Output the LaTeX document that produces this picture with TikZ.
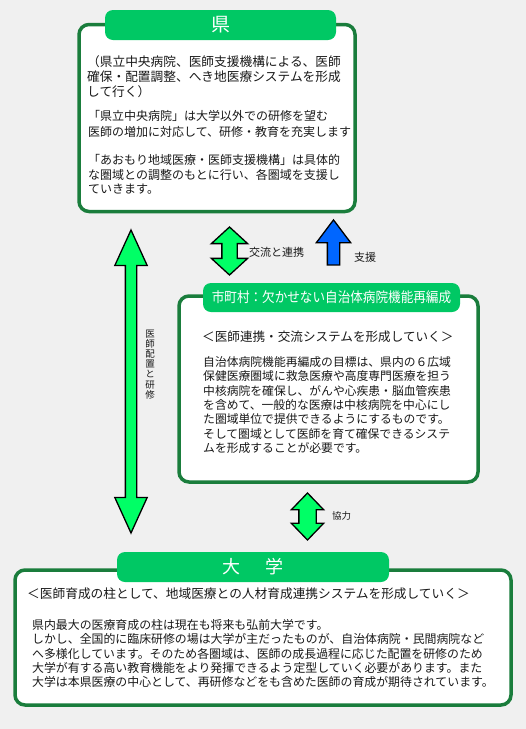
\documentclass[tikz,border=0pt]{standalone}
\usepackage{fontspec}
\setmainfont{Noto Sans CJK JP}
\newfontfamily\condfont[FakeStretch=0.9]{Noto Sans CJK JP}
\usetikzlibrary{shapes.arrows}

\definecolor{bggray}{HTML}{F0F0F0}
\definecolor{framegreen}{HTML}{1A7D3C}
\definecolor{tabgreen}{HTML}{00C864}
\definecolor{arrowgreen}{HTML}{00FF66}
\definecolor{arrowblue}{HTML}{0066FF}

\begin{document}
\begin{tikzpicture}[
  x=1pt, y=-1pt,
  panel/.style={draw=framegreen, line width=3.5pt, fill=white, rounded corners=10pt, inner sep=0pt},
  tab/.style={fill=tabgreen, rounded corners=8pt, text=white, inner sep=0pt},
  body/.style={anchor=base west, align=left, inner sep=0pt, text=black!90},
  tag/.style={inner sep=0pt, text=black!90, font=\fontsize{11}{13}\selectfont},
  dblarrow/.style={double arrow, draw=black, line width=1.3pt, fill=arrowgreen, inner xsep=0pt, rotate=90}
]
\fill[bggray] (0,0) rectangle (526,729);
\useasboundingbox (0,0) rectangle (526,729);

% prefecture (text nodes sit on the baseline of their last line)
\node[panel, minimum width=276, minimum height=187] (ken) at (217,118) {};
\node[tab, minimum width=231, minimum height=30, font=\fontsize{19}{19}\selectfont] (kentab) at (220.5,25) {県};
\node[body, font=\fontsize{12.7}{15}\selectfont] (kenA) at (87,96) {（県立中央病院、医師支援機構による、医師\\確保・配置調整、へき地医療システムを形成\\して行く）};
\node[body, font=\fontsize{12}{16}\selectfont] (kenB) at (88,136.5) {「県立中央病院」は大学以外での研修を望む\\医師の増加に対応して、研修・教育を充実します};
\node[body, font=\fontsize{12}{14.5}\selectfont] (kenC) at (88,193.5) {「あおもり地域医療・医師支援機構」は具体的\\な圏域との調整のもとに行い、各圏域を支援し\\ていきます。};

% municipalities
\node[panel, minimum width=299, minimum height=186] (shi) at (328.5,389) {};
\node[tab, minimum width=257, minimum height=29, font=\fontsize{14}{14}\condfont] (shitab) at (331.5,297.5) {市町村：欠かせない自治体病院機能再編成};
\node[body, font=\fontsize{12.6}{15}\selectfont] (shiH) at (202,341.5) {＜医師連携・交流システムを形成していく＞};
\node[body, font=\fontsize{11.8}{14.4}\selectfont] (shiB) at (203,452.6) {自治体病院機能再編成の目標は、県内の６広域\\保健医療圏域に救急医療や高度専門医療を担う\\中核病院を確保し、がんや心疾患・脳血管疾患\\を含めて、一般的な医療は中核病院を中心にし\\た圏域単位で提供できるようにするものです。\\そして圏域として医師を育て確保できるシステ\\ムを形成することが必要です。};

% university
\node[panel, minimum width=496, minimum height=135] (dai) at (263,637.5) {};
\node[tab, minimum width=272, minimum height=30, font=\fontsize{18}{18}\selectfont] (daitab) at (253,567) {大\hspace{25.5pt}学};
\node[body, font=\fontsize{12.7}{15}\selectfont] (daiH) at (27,598.8) {＜医師育成の柱として、地域医療との人材育成連携システムを形成していく＞};
\node[body, font=\fontsize{11.9}{14.3}\selectfont] (daiB) at (32,686.7) {県内最大の医療育成の柱は現在も将来も弘前大学です。\\しかし、全国的に臨床研修の場は大学が主だったものが、自治体病院・民間病院など\\へ多様化しています。そのため各圏域は、医師の成長過程に応じた配置を研修のため\\大学が有する高い教育機能をより発揮できるよう定型していく必要があります。また\\大学は本県医療の中心として、再研修などをも含めた医師の育成が期待されています。};

% block arrows
\node[dblarrow, inner ysep=5pt, minimum height=303, minimum width=31, double arrow head extend=10.5, double arrow tip angle=49] (haichi) at (131,381.5) {};
\node[tag, align=center, font=\fontsize{9.5}{10.1}\selectfont] (haichiL) at (150,364.5) {医\\師\\配\\置\\と\\研\\修};
\node[dblarrow, inner ysep=7pt, minimum height=48, minimum width=35, double arrow head extend=10.5, double arrow tip angle=95] (koryu) at (229.5,251) {};
\node[tag, anchor=west] (koryuL) at (249,252) {交流と連携};
\node[single arrow, draw=black, line width=1.3pt, fill=arrowblue, inner xsep=0pt, inner ysep=5.5pt, rotate=90, minimum height=45, minimum width=33, single arrow head extend=11, single arrow tip angle=74] (shien) at (333.5,246.5) {};
\node[tag, anchor=west] (shienL) at (354,257) {支援};
\node[dblarrow, inner ysep=8pt, minimum height=47, minimum width=31, double arrow head extend=7.5, double arrow tip angle=88] (kyoryoku) at (307.5,516.5) {};
\node[tag, anchor=west, font=\fontsize{9.5}{10}\selectfont] (kyoryokuL) at (332,516) {協力};
\end{tikzpicture}
\end{document}
